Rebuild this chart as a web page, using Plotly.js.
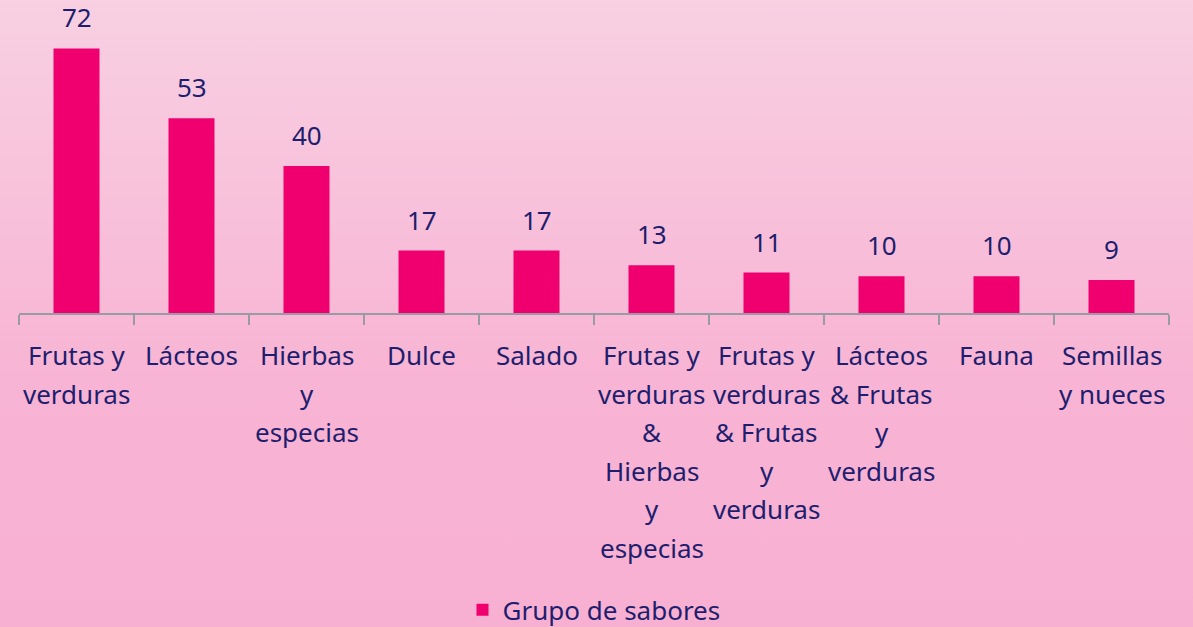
<!DOCTYPE html>
<html><head><meta charset="utf-8">
<script src="https://cdn.plot.ly/plotly-3.0.1.min.js"></script>
<style>
html,body{margin:0;padding:0;}
#chart{width:1193px;height:627px;background:linear-gradient(to bottom,#f8d0e2 0%,#f8b4d4 60%,#f8b0d2 100%);}
</style></head>
<body><div id="chart"></div>
<script>
const categories = ["Frutas y<br>verduras","Lácteos","Hierbas<br>y<br>especias","Dulce","Salado","Frutas y<br>verduras<br>&<br>Hierbas<br>y<br>especias","Frutas y<br>verduras<br>& Frutas<br>y<br>verduras","Lácteos<br>& Frutas<br>y<br>verduras","Fauna","Semillas<br>y nueces"];
const values = [72,53,40,17,17,13,11,10,10,9];
const seriesName = "Grupo de sabores";

const navy = "#1e1e6e";
const font = "Noto Sans, sans-serif";
const fs = 26;
const keys = categories.map((c,i)=>"c"+i);

const trace = {
  type: "bar", x: keys, y: values, name: seriesName,
  marker: {color: "#f0006e"}, showlegend: true, cliponaxis: false
};
const annotations = keys.map((k,i)=>({
  x: k, y: values[i], text: String(values[i]), showarrow: false, borderpad: 0,
  yanchor: "bottom", yshift: 12, font: {family: font, size: fs, color: navy}
}));
// category labels, one annotation per line for wider line spacing
categories.forEach((c,i)=>{
  c.split("<br>").forEach((line,j)=>{
    annotations.push({x: keys[i], xref: "x", y: 0, yref: "paper", text: line, showarrow: false,
      yanchor: "middle", yshift: -(42 + 38.6*j), font: {family: font, size: fs, color: navy}});
  });
});
const layout = {
  width: 1193, height: 627,
  paper_bgcolor: "rgba(0,0,0,0)", plot_bgcolor: "rgba(0,0,0,0)",
  margin: {l: 19, r: 24, t: 19, b: 314, autoexpand: false},
  bargap: 0.6,
  font: {family: font, size: fs, color: navy},
  xaxis: {tickvals: keys, showticklabels: false, showline: true, linecolor: "#9a9aa6", linewidth: 1.5,
          ticks: "outside", tickson: "boundaries", ticklen: 10, tickcolor: "#9a9aa6", tickwidth: 1.5,
          automargin: false, fixedrange: true},
  yaxis: {visible: false, range: [0, 80], showgrid: false, zeroline: false, automargin: false},
  legend: {orientation: "h", x: 0.5, xanchor: "center", y: -1.01, yanchor: "middle",
           font: {family: font, size: fs, color: navy}, bgcolor: "rgba(0,0,0,0)"},
  annotations: annotations
};
Plotly.newPlot("chart", [trace], layout, {displayModeBar: false, staticPlot: true});
</script></body></html>
